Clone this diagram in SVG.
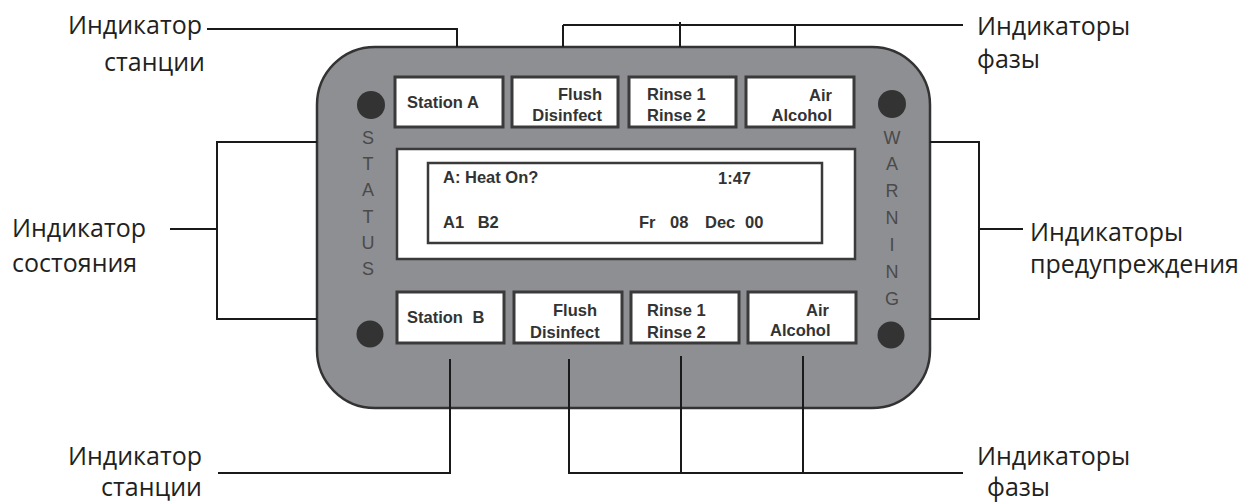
<svg xmlns="http://www.w3.org/2000/svg" width="1257" height="504" viewBox="0 0 1257 504">
<style>
.lbl{font-family:"Open Sans","Noto Sans","DejaVu Sans",sans-serif;font-size:25px;fill:#231f20}
.btn{fill:#fff;stroke:#3a3a3a;stroke-width:3}
.bt{font-family:"Liberation Sans",Arial,sans-serif;font-size:16.5px;font-weight:bold;fill:#333}
.vt{font-family:"Liberation Sans",Arial,sans-serif;font-size:18px;fill:#4a4a4a;text-anchor:middle}
.dot{fill:#333}
.con{fill:none;stroke:#1a1a1a;stroke-width:2}
</style>
<rect width="1257" height="504" fill="#fff"/>
<g id="panel">
<rect x="317" y="47" width="613" height="361" rx="58" ry="58" fill="#8e8f93" stroke="#333" stroke-width="2.5"/>
<circle class="dot" cx="371" cy="105" r="14"/>
<circle class="dot" cx="892" cy="104" r="14"/>
<circle class="dot" cx="370" cy="334" r="13.5"/>
<circle class="dot" cx="891" cy="335" r="13.5"/>
</g>
<g id="status-label">
<text class="vt" x="368" y="144">S</text>
<text class="vt" x="368" y="170">T</text>
<text class="vt" x="368" y="196">A</text>
<text class="vt" x="368" y="223">T</text>
<text class="vt" x="368" y="249">U</text>
<text class="vt" x="368" y="275">S</text>
</g>
<g id="warning-label">
<text class="vt" x="892" y="144">W</text>
<text class="vt" x="892" y="170">A</text>
<text class="vt" x="892" y="197">R</text>
<text class="vt" x="892" y="224">N</text>
<text class="vt" x="892" y="251">I</text>
<text class="vt" x="892" y="278">N</text>
<text class="vt" x="892" y="305">G</text>
</g>
<g id="station-a">
<rect class="btn" x="395" y="77" width="108" height="50"/>
<text class="bt" x="407" y="108">Station A</text>
</g>
<g id="flush-top">
<rect class="btn" x="512" y="77" width="106" height="50"/>
<text class="bt" x="602" y="100" text-anchor="end">Flush</text>
<text class="bt" x="602" y="121" text-anchor="end">Disinfect</text>
</g>
<g id="rinse-top">
<rect class="btn" x="629" y="77" width="107" height="50"/>
<text class="bt" x="647" y="100">Rinse 1</text>
<text class="bt" x="647" y="121">Rinse 2</text>
</g>
<g id="air-top">
<rect class="btn" x="746" y="77" width="108" height="50"/>
<text class="bt" x="832" y="101" text-anchor="end">Air</text>
<text class="bt" x="832" y="121" text-anchor="end">Alcohol</text>
</g>
<g id="display">
<rect x="397" y="149" width="458" height="110" fill="#fff" stroke="#3a3a3a" stroke-width="2.5"/>
<rect x="428" y="163" width="394" height="80" fill="#fff" stroke="#3a3a3a" stroke-width="2.5"/>
<text class="bt" x="443" y="183">A: Heat On?</text>
<text class="bt" x="718" y="184">1:47</text>
<text class="bt" x="443" y="228" word-spacing="9">A1 B2</text>
<text class="bt" y="228"><tspan x="639">Fr</tspan><tspan x="670">08</tspan><tspan x="705">Dec</tspan><tspan x="745">00</tspan></text>
</g>
<g id="station-b">
<rect class="btn" x="397" y="292" width="107" height="51"/>
<text class="bt" x="407" y="323" word-spacing="5">Station B</text>
</g>
<g id="flush-bottom">
<rect class="btn" x="514" y="292" width="108" height="51"/>
<text class="bt" x="553" y="316">Flush</text>
<text class="bt" x="530" y="338">Disinfect</text>
</g>
<g id="rinse-bottom">
<rect class="btn" x="631" y="292" width="108" height="51"/>
<text class="bt" x="647" y="316">Rinse 1</text>
<text class="bt" x="647" y="338">Rinse 2</text>
</g>
<g id="air-bottom">
<rect class="btn" x="748" y="292" width="108" height="51"/>
<text class="bt" x="806" y="316">Air</text>
<text class="bt" x="770" y="336">Alcohol</text>
</g>
<g id="connectors">
<polyline class="con" points="207,29 457,29 457,47"/>
<line class="con" x1="563" y1="25" x2="963" y2="25"/>
<line class="con" x1="563" y1="25" x2="563" y2="47"/>
<line class="con" x1="680" y1="22" x2="680" y2="47"/>
<line class="con" x1="795" y1="25" x2="795" y2="47"/>
<polyline class="con" points="317,142 217,142 217,319 317,319"/>
<line class="con" x1="170" y1="229" x2="217" y2="229"/>
<polyline class="con" points="930,142 979,142 979,319 930,319"/>
<line class="con" x1="979" y1="229" x2="1023" y2="229"/>
<polyline class="con" points="450,359 450,473 218,473"/>
<polyline class="con" points="569,359 569,473 963,473"/>
<line class="con" x1="681" y1="356" x2="681" y2="473"/>
<line class="con" x1="803" y1="356" x2="803" y2="473"/>
</g>
<g id="label-station-top">
<text class="lbl" x="202" y="34" text-anchor="end">Индикатор</text>
<text class="lbl" x="205" y="71" text-anchor="end">станции</text>
</g>
<g id="label-phase-top">
<text class="lbl" x="977" y="35">Индикаторы</text>
<text class="lbl" x="977" y="68">фазы</text>
</g>
<g id="label-status">
<text class="lbl" x="12" y="237">Индикатор</text>
<text class="lbl" x="12" y="272">состояния</text>
</g>
<g id="label-warning">
<text class="lbl" x="1030" y="241">Индикаторы</text>
<text class="lbl" x="1030" y="273">предупреждения</text>
</g>
<g id="label-station-bottom">
<text class="lbl" x="202" y="465" text-anchor="end">Индикатор</text>
<text class="lbl" x="202" y="496" text-anchor="end">станции</text>
</g>
<g id="label-phase-bottom">
<text class="lbl" x="977" y="465">Индикаторы</text>
<text class="lbl" x="987" y="496">фазы</text>
</g>
</svg>
